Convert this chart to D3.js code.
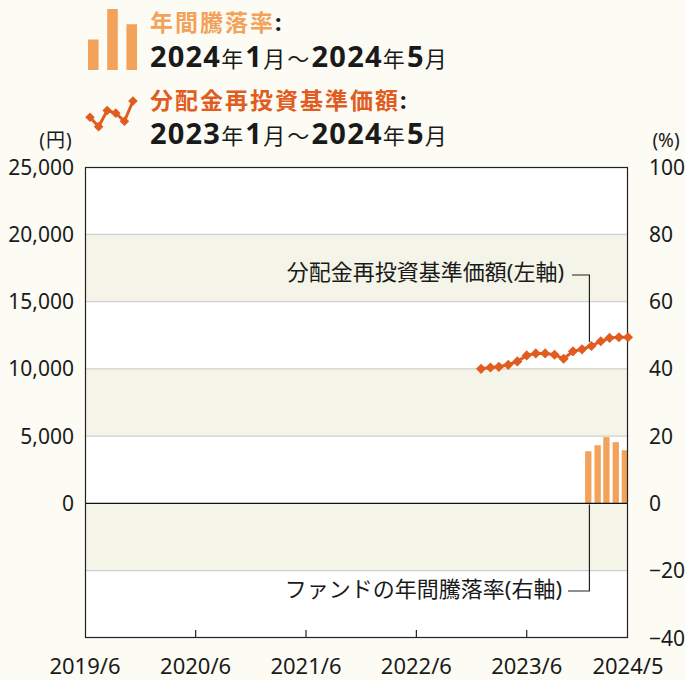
<!DOCTYPE html>
<html lang="ja">
<head>
<meta charset="utf-8">
<title>分配金再投資基準価額と年間騰落率</title>
<script src="https://cdn.jsdelivr.net/npm/d3@7"></script>
<style>
  html, body { margin: 0; padding: 0; background: #fcfbf4; }
  text { font-family: "Noto Sans", "Noto Sans CJK JP", sans-serif; fill: #1a1a1a; }
</style>
</head>
<body>
<div id="chart"></div>
<script>
// ---- data ----
var navMonths = ["2023-01","2023-02","2023-03","2023-04","2023-05","2023-06","2023-07","2023-08",
                 "2023-09","2023-10","2023-11","2023-12","2024-01","2024-02","2024-03","2024-04","2024-05"];
var navValues = [10000, 10100, 10150, 10300, 10550, 11000, 11150, 11150,
                 11050, 10750, 11300, 11450, 11700, 12050, 12300, 12350, 12350];

var retMonths = ["2024-01","2024-02","2024-03","2024-04","2024-05"];
var retValues = [15.5, 17.3, 19.7, 18.2, 15.8];

var leftTicks = [0, 5000, 10000, 15000, 20000, 25000];
var rightTicks = [-40, -20, 0, 20, 40, 60, 80, 100];
var xTickDates = ["2019-06","2020-06","2021-06","2022-06","2023-06","2024-05"];
var xTickLabels = ["2019/6","2020/6","2021/6","2022/6","2023/6","2024/5"];
var bands = [[15000, 20000], [5000, 10000], [-5000, 0]];

var width = 685, height = 680;
var pL = 85, pR = 628, pT = 167, pB = 638;

var parse = d3.timeParse("%Y-%m");
var orange = "#f2a25a", dark = "#e05c1f";

var svg = d3.select("#chart").append("svg")
    .attr("width", width).attr("height", height);

var x = d3.scaleTime()
    .domain([parse("2019-06"), parse("2024-05")])
    .range([pL, pR]);
var yL = d3.scaleLinear().domain([-10000, 25000]).range([pB, pT]);
var yR = d3.scaleLinear().domain([-40, 100]).range([pB, pT]);

// plot background + bands
svg.append("rect").attr("x", pL).attr("y", pT)
    .attr("width", pR - pL).attr("height", pB - pT).attr("fill", "#fff");
svg.selectAll(".band").data(bands).enter().append("rect")
    .attr("x", pL).attr("width", pR - pL)
    .attr("y", function(d) { return yL(d[1]); })
    .attr("height", function(d) { return yL(d[0]) - yL(d[1]); })
    .attr("fill", "#f5f4e8");

// grid
svg.selectAll(".grid").data([-5000, 5000, 10000, 15000, 20000]).enter().append("line")
    .attr("x1", pL).attr("x2", pR)
    .attr("y1", function(d) { return yL(d); }).attr("y2", function(d) { return yL(d); })
    .attr("stroke", "#cfcfcf").attr("stroke-width", 1.2);

// bars (right axis)
var bars = retMonths.map(function(m, i) { return {date: parse(m), v: retValues[i]}; });
svg.selectAll(".bar").data(bars).enter().append("rect")
    .attr("x", function(d) { return x(d.date) - 6.3; })
    .attr("width", 6.3)
    .attr("y", function(d) { return yR(d.v); })
    .attr("height", function(d) { return yR(0) - yR(d.v); })
    .attr("fill", orange);

// zero line
svg.append("line").attr("x1", pL).attr("x2", pR)
    .attr("y1", yL(0)).attr("y2", yL(0)).attr("stroke", "#111").attr("stroke-width", 1.2);

// frame
svg.append("rect").attr("x", pL + 0.5).attr("y", pT + 0.5)
    .attr("width", pR - pL - 1).attr("height", pB - pT - 1)
    .attr("fill", "none").attr("stroke", "#222").attr("stroke-width", 1.2);

// x ticks
svg.selectAll(".xt").data(xTickDates.slice(1, 5)).enter().append("line")
    .attr("x1", function(d) { return x(parse(d)); }).attr("x2", function(d) { return x(parse(d)); })
    .attr("y1", pB).attr("y2", pB - 8).attr("stroke", "#222").attr("stroke-width", 1.2);
svg.selectAll(".xl").data(xTickDates).enter().append("text")
    .attr("x", function(d) { return x(parse(d)); })
    .attr("y", 674).attr("text-anchor", "middle").attr("font-size", 22)
    .text(function(d, i) { return xTickLabels[i]; });

// left / right axis labels
svg.selectAll(".yl").data(leftTicks).enter().append("text")
    .attr("x", 74).attr("y", function(d) { return yL(d) + 7.5; })
    .attr("text-anchor", "end").attr("font-size", 21)
    .text(function(d) { return d3.format(",")(d); });
svg.selectAll(".yr").data(rightTicks).enter().append("text")
    .attr("x", 649).attr("y", function(d) { return yR(d) + 7.5; })
    .attr("font-size", 21)
    .text(function(d) { return d < 0 ? "\u2212" + Math.abs(d) : d; });
svg.append("text").attr("x", 56).attr("y", 147).attr("text-anchor", "middle")
    .attr("font-size", 19).attr("letter-spacing", 1).text("(円)");
svg.append("text").attr("x", 666).attr("y", 147).attr("text-anchor", "middle")
    .attr("font-size", 19).text("(%)");

// line (left axis)
var nav = navMonths.map(function(m, i) { return {date: parse(m), v: navValues[i]}; });
svg.append("path").datum(nav)
    .attr("fill", "none").attr("stroke", dark).attr("stroke-width", 3)
    .attr("d", d3.line().x(function(d) { return x(d.date); }).y(function(d) { return yL(d.v); }));
svg.selectAll(".pt").data(nav).enter().append("path")
    .attr("d", d3.symbol(d3.symbolSquare, 52))
    .attr("transform", function(d) { return "translate(" + x(d.date) + "," + yL(d.v) + ") rotate(45)"; })
    .attr("fill", dark);

// annotations
var navPt = nav[12];
var ax = x(navPt.date) - 2;
svg.append("path")
    .attr("d", "M572,275H" + ax + "V" + (yL(navPt.v) - 4))
    .attr("fill", "none").attr("stroke", "#222").attr("stroke-width", 1.2);
svg.append("text").attr("x", 564).attr("y", 280).attr("text-anchor", "end")
    .attr("font-size", 22).text("分配金再投資基準価額(左軸)");
svg.append("path")
    .attr("d", "M568,591H" + ax + "V" + (yR(0) + 1))
    .attr("fill", "none").attr("stroke", "#222").attr("stroke-width", 1.2);
svg.append("text").attr("x", 562).attr("y", 597).attr("text-anchor", "end")
    .attr("font-size", 22).text("ファンドの年間騰落率(右軸)");

// legend
var legBars = [0.5, 1, 0.75];
var lb = d3.scaleBand().domain([0, 1, 2]).range([88, 137]).paddingInner(0.45);
svg.selectAll(".lb").data(legBars).enter().append("rect")
    .attr("x", function(d, i) { return lb(i); }).attr("width", lb.bandwidth())
    .attr("y", function(d) { return 70 - d * 61; }).attr("height", function(d) { return d * 61; })
    .attr("fill", orange);

var legLine = [0.6, 0.95, 0.35, 0.45, 0.75, 0];
var llx = d3.scaleLinear().domain([0, 5]).range([90, 133]);
var lly = d3.scaleLinear().domain([0, 1]).range([101, 128]);
svg.append("path").datum(legLine)
    .attr("fill", "none").attr("stroke", dark).attr("stroke-width", 3)
    .attr("d", d3.line().x(function(d, i) { return llx(i); }).y(function(d) { return lly(d); }));
svg.selectAll(".ll").data(legLine).enter().append("path")
    .attr("d", d3.symbol(d3.symbolSquare, 46))
    .attr("transform", function(d, i) { return "translate(" + llx(i) + "," + lly(d) + ") rotate(45)"; })
    .attr("fill", dark);

function title(y, label, color) {
  var t = svg.append("text").attr("x", 150).attr("y", y).attr("font-size", 23)
      .attr("font-weight", "bold").attr("letter-spacing", 2);
  t.append("tspan").attr("fill", color).text(label);
  t.append("tspan").attr("fill", "#1a1a1a").text(":");
}
function period(y, parts) {
  var t = svg.append("text").attr("x", 150).attr("y", y).attr("font-weight", "bold");
  parts.forEach(function(p) {
    var big = /^\d+$/.test(p);
    t.append("tspan").attr("font-size", big ? 29 : 22)
      .attr("font-weight", big ? "bold" : "normal")
      .attr("letter-spacing", big ? 1.2 : 2.2)
      .text(p);
  });
}
title(31, "年間騰落率", orange);
period(67, ["2024", "年", "1", "月", "〜", "2024", "年", "5", "月"]);
title(109, "分配金再投資基準価額", dark);
period(144, ["2023", "年", "1", "月", "〜", "2024", "年", "5", "月"]);
</script>
</body>
</html>
